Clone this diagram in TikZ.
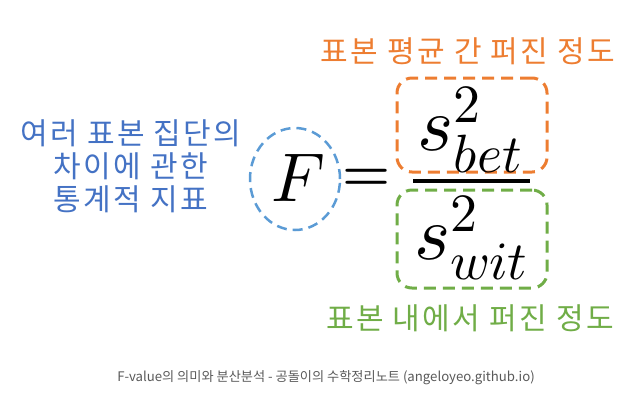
\documentclass[tikz,border=0pt]{standalone}
\usepackage{fontspec}
\usepackage{unicode-math}
\setmathfont{Latin Modern Math}
\newfontfamily\kr[LetterSpace=8]{Noto Sans CJK KR}
\newfontfamily\krsmall{Noto Sans CJK KR}
\definecolor{fblue}{HTML}{4472C4}
\definecolor{fcircle}{HTML}{5B9BD5}
\definecolor{forange}{HTML}{ED7D31}
\definecolor{fgreen}{HTML}{70AD47}
\definecolor{fgray}{HTML}{595959}
\usetikzlibrary{shapes.geometric}

\begin{document}
\begin{tikzpicture}[x=1pt,y=-1pt,
  note/.style={font=\kr\fontsize{30}{33}\selectfont,align=center,inner sep=0pt},
  varbox/.style={draw,dashed,line width=3pt,dash pattern=on 12pt off 7pt,rounded corners=15pt,
    minimum width=150pt,inner sep=0pt},
  bigmath/.style={font=\fontsize{77}{77}\selectfont,inner sep=0pt}
]
  \useasboundingbox (0,0) rectangle (636,400);
  % Left annotation
  \node[note,fblue] (desc) at (131,166) {여러 표본 집단의\\차이에 관한\\통계적 지표};
  % F and equals
  \node[draw=fcircle,ellipse,line width=2.5pt,dash pattern=on 10pt off 6pt,
    minimum width=90pt,minimum height=102pt,inner sep=0pt] (fcirc) at (295,179) {};
  \node[font=\fontsize{69}{69}\selectfont,inner sep=0pt] (fvar) at (298,178) {$F$};
  \node[font=\fontsize{55}{55}\selectfont\bfseries,inner sep=0pt] (eqsign) at (367,180) {=};
  % Fraction
  \node[varbox,forange,minimum height=94pt] (betbox) at (472,125) {};
  \node[varbox,fgreen,minimum height=98pt] (witbox) at (472,239) {};
  \draw[line width=4pt] (413,181) -- (530,181);
  \node[bigmath] (sbet) at (470,130) {$s^2_{bet}$};
  \node[bigmath] (swit) at (471,238) {$s^2_{wit}$};
  % Labels
  \node[note,forange] (betlabel) at (468,51) {표본 평균 간 퍼진 정도};
  \node[note,fgreen] (witlabel) at (470,318) {표본 내에서 퍼진 정도};
  \node[font=\krsmall\fontsize{13.2}{15}\selectfont,fgray] (source) at (326,378)
    {F-value의 의미와 분산분석 - 공돌이의 수학정리노트 (angeloyeo.github.io)};
\end{tikzpicture}
\end{document}
